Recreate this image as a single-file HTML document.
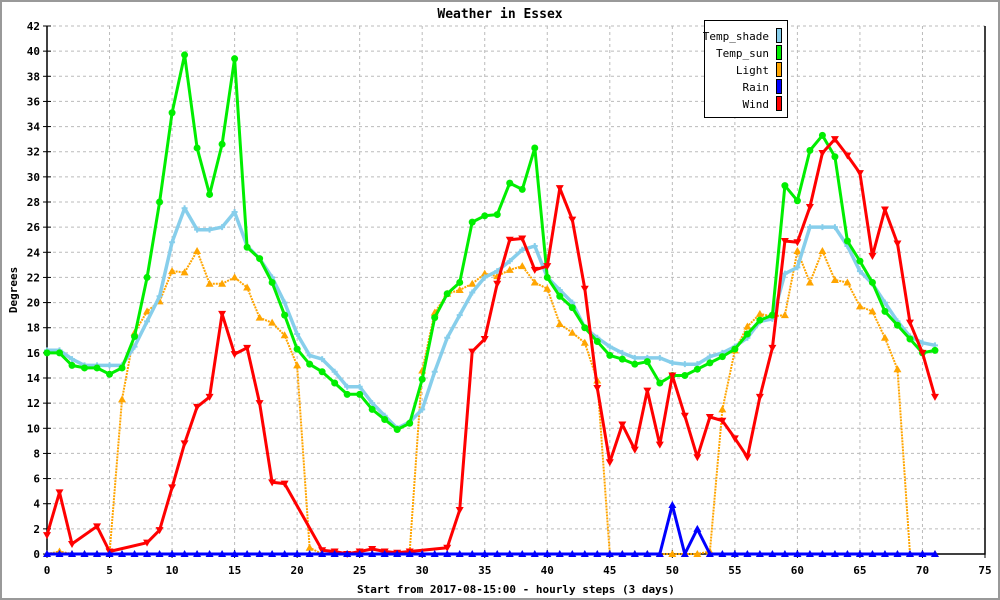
<!DOCTYPE html>
<html><head><meta charset="utf-8"><style>
html,body{margin:0;padding:0;background:#fff}
svg{display:block}
text{font-family:"DejaVu Sans Mono","Liberation Mono",monospace}
</style></head><body>
<svg id="chart" width="1000" height="600" viewBox="0 0 1000 600">
<rect x="1" y="1" width="998" height="598" fill="#fff" stroke="#999" stroke-width="2"/>
<text x="500" y="18" text-anchor="middle" font-size="13" font-weight="bold">Weather in Essex</text>
<text x="17" y="290" text-anchor="middle" font-size="11" font-weight="bold" transform="rotate(-90 17 290)">Degrees</text>
<text x="516" y="593" text-anchor="middle" font-size="11" font-weight="bold">Start from 2017-08-15:00 - hourly steps (3 days)</text>
<g id="grid"></g>
<g id="axes"></g>
<g id="series"></g>
<g>
<rect x="704.5" y="20.5" width="83" height="97" fill="#fff" stroke="#000"/>
<g font-size="11" text-anchor="end">
<text x="769" y="40">Temp_shade</text>
<text x="769" y="57">Temp_sun</text>
<text x="769" y="74">Light</text>
<text x="769" y="91">Rain</text>
<text x="769" y="108">Wind</text>
</g>
<rect x="776.5" y="28.5" width="5" height="14" fill="#87ceeb" stroke="#000"/>
<rect x="776.5" y="45.5" width="5" height="14" fill="#00ee00" stroke="#000"/>
<rect x="776.5" y="62.5" width="5" height="14" fill="#ffa500" stroke="#000"/>
<rect x="776.5" y="79.5" width="5" height="14" fill="#0000ff" stroke="#000"/>
<rect x="776.5" y="96.5" width="5" height="14" fill="#ff0000" stroke="#000"/>
</g>
</svg>
<script>
const xTicks=[0,5,10,15,20,25,30,35,40,45,50,55,60,65,70,75];
const yTicks=[0,2,4,6,8,10,12,14,16,18,20,22,24,26,28,30,32,34,36,38,40,42];
const tempShade=[16.2,16.2,15.5,15,15,15,15,16.5,18.5,20.5,24.8,27.5,25.8,25.8,26,27.2,24.5,23.5,22,20,17.5,15.8,15.5,14.5,13.3,13.3,12,11,10,10.5,11.5,14.5,17.2,19,20.8,22,22.5,23.3,24.2,24.5,22,21,20,18,17.2,16.5,16,15.6,15.6,15.6,15.2,15.1,15.1,15.7,16,16.5,17.2,18.5,18.7,22.3,22.8,26,26,26,24.5,22.5,21.5,20,18.5,17.3,16.8,16.6];
const tempSun=[16,16,15,14.8,14.8,14.3,14.8,17.3,22,28,35.1,39.7,32.3,28.6,32.6,39.4,24.4,23.5,21.6,19,16.3,15.1,14.5,13.6,12.7,12.7,11.5,10.7,9.9,10.4,13.9,18.8,20.7,21.6,26.4,26.9,27,29.5,29,32.3,22,20.5,19.6,18,16.9,15.8,15.5,15.1,15.3,13.6,14.2,14.2,14.7,15.2,15.7,16.3,17.5,18.6,19,29.3,28.1,32.1,33.3,31.6,24.9,23.3,21.6,19.3,18.2,17.1,16,16.2];
const light=[0,0.2,0,0,0,0,12.3,17.6,19.3,20.1,22.5,22.4,24.1,21.5,21.5,22,21.2,18.8,18.4,17.4,15,0.5,0,0,0,0,0,0,0,0.2,14.6,19.2,20.7,21,21.5,22.3,22.1,22.6,22.9,21.6,21.1,18.3,17.6,16.8,13.8,0,0,0,0,0,0,0,0,0.2,11.5,16.2,18.1,19.1,18.9,19,24.1,21.6,24.1,21.8,21.6,19.7,19.3,17.2,14.7,0,0,0];
const rain=[0,0,0,0,0,0,0,0,0,0,0,0,0,0,0,0,0,0,0,0,0,0,0,0,0,0,0,0,0,0,0,0,0,0,0,0,0,0,0,0,0,0,0,0,0,0,0,0,0,0,3.9,0,2,0,0,0,0,0,0,0,0,0,0,0,0,0,0,0,0,0,0,0];
const wind=[1.5,4.9,0.8,null,2.2,0.2,null,null,0.9,1.9,5.3,8.8,11.7,12.5,19.1,15.9,16.4,12,5.7,5.6,null,null,0.3,0.2,0,0.2,0.4,0.2,0.1,0.2,null,null,0.5,3.5,16.1,17.1,21.5,25,25.1,22.6,22.9,29.1,26.6,21.1,13.2,7.3,10.3,8.3,13,8.7,14.2,11,7.7,10.9,10.6,9.2,7.7,12.5,16.4,24.9,24.8,27.6,31.9,33,31.7,30.3,23.7,27.4,24.7,18.4,16,12.5];

const NS='http://www.w3.org/2000/svg';
const X0=47,X1=985,Y0=554,Y1=26,XMAX=75,YMAX=42;
const xs=v=>X0+(X1-X0)*v/XMAX;
const ys=v=>Y0-(Y0-Y1)*v/YMAX;
function mk(tag,attrs,parent){const e=document.createElementNS(NS,tag);for(const k in attrs)e.setAttribute(k,attrs[k]);parent.appendChild(e);return e;}
const grid=document.getElementById('grid'),axes=document.getElementById('axes'),series=document.getElementById('series');
yTicks.forEach(t=>{
  if(t>0){const l=mk('line',{x1:X0,x2:X1,y1:ys(t),y2:ys(t),stroke:'#bbb','stroke-dasharray':'3,3'},grid);
  
  }
  const tk=mk('line',{x1:X0-4,x2:X0+4,y1:ys(t),y2:ys(t),stroke:'#000'},axes);
  
  
  const tx=mk('text',{x:X0-7,y:ys(t)+4,'text-anchor':'end','font-size':'11','font-weight':'bold'},axes);
  tx.textContent=t;
  
  
});
xTicks.forEach(t=>{
  if(t>0&&t<XMAX){const l=mk('line',{x1:xs(t),x2:xs(t),y1:Y1,y2:Y0,stroke:'#bbb','stroke-dasharray':'3,3'},grid);
  
  }
  const tk=mk('line',{x1:xs(t),x2:xs(t),y1:Y0-4,y2:Y0+4,stroke:'#000'},axes);
  
  
  const tx=mk('text',{x:xs(t),y:Y0+20,'text-anchor':'middle','font-size':'11','font-weight':'bold'},axes);
  tx.textContent=t;
  
  
});
const al=mk('path',{d:`M${X0},${Y1}V${Y0}H${X1}V${Y1}`,fill:'none',stroke:'#000','stroke-width':1.5},axes);



function drawSeries(vals,color,width,dash,marker,name){
  const g=mk('g',{},series);
  
  
  let d='';
  vals.forEach((v,i)=>{if(v===null)return;d+=(d?'L':'M')+xs(i).toFixed(1)+','+ys(v).toFixed(1);});
  const p=mk('path',{d:d,fill:'none',stroke:color,'stroke-width':width,'stroke-linejoin':'round'},g);
  if(dash)p.setAttribute('stroke-dasharray',dash);
  
  
  vals.forEach((v,i)=>{
    if(v===null)return;
    const cx=xs(i),cy=ys(v);let m;
    if(marker==='circle')m=mk('circle',{cx:cx,cy:cy,r:3.5,fill:color},g);
    else if(marker==='up')m=mk('path',{d:`M${cx},${cy-4}L${cx+4},${cy+3}L${cx-4},${cy+3}Z`,fill:color},g);
    else if(marker==='down')m=mk('path',{d:`M${cx-4},${cy-3}L${cx+4},${cy-3}L${cx},${cy+4}Z`,fill:color},g);
    else if(marker==='cross')m=mk('path',{d:`M${cx-3},${cy}H${cx+3}M${cx},${cy-3}V${cy+3}`,stroke:color,'stroke-width':2},g);
    
    
  });
}
drawSeries(light,'#ffa500',2,'2,1','up','light');
drawSeries(tempShade,'#87ceeb',3.5,null,'cross','temp-shade');
drawSeries(tempSun,'#00ee00',3,null,'circle','temp-sun');
drawSeries(wind,'#ff0000',3,null,'down','wind');
drawSeries(rain,'#0000ff',3,null,'up','rain');
</script>
</body></html>
